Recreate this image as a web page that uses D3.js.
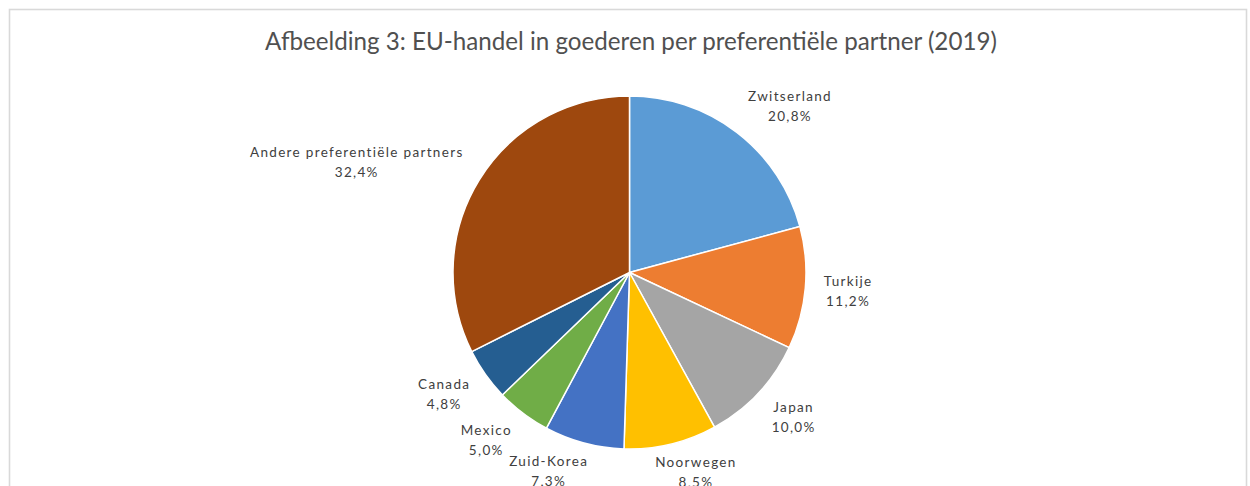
<!DOCTYPE html>
<html>
<head>
<meta charset="utf-8">
<script src="https://cdn.jsdelivr.net/npm/d3@7"></script>
<style>
  html, body { margin: 0; padding: 0; background: #fff; }
  svg { display: block; }
</style>
</head>
<body>
<svg id="chart" width="1250" height="486"></svg>
<script>
// ---- data ----
const titleText = "Afbeelding 3: EU-handel in goederen per preferentiële partner (2019)";
const partners = ["Zwitserland", "Turkije", "Japan", "Noorwegen", "Zuid-Korea", "Mexico", "Canada", "Andere preferentiële partners"];
const shares = [20.8, 11.2, 10.0, 8.5, 7.3, 5.0, 4.8, 32.4];
const sliceColors = ["#5B9BD5", "#ED7D31", "#A5A5A5", "#FFC000", "#4472C4", "#70AD47", "#255E91", "#9E480E"];

// ---- layout ----
const cx = 629.5, cy = 272.5, R = 176.5;
const svg = d3.select("#chart");

// frame
svg.append("rect")
  .attr("x", 9.5).attr("y", 9.5)
  .attr("width", 1237).attr("height", 520)
  .attr("fill", "#fff")
  .attr("stroke", "#d9d9d9").attr("stroke-width", 1.6);

// title
const title = svg.append("text")
  .attr("x", 631).attr("y", 40)
  .attr("text-anchor", "middle")
  .attr("dominant-baseline", "central")
  .attr("fill", "#505050")
  .style("font-family", "Lato, 'Open Sans', sans-serif")
  .style("font-size", "20px")
  .text(titleText);
{
  const len = title.node().getComputedTextLength();
  title.style("font-size", (20 * 732 / len).toFixed(2) + "px");
}

// pie
const data = partners.map((p, i) => ({ name: p, value: shares[i], color: sliceColors[i] }));
const pie = d3.pie().value(d => d.value).sort(null);
const arcs = pie(data);
const arc = d3.arc().innerRadius(0).outerRadius(R);

const g = svg.append("g").attr("transform", `translate(${cx},${cy})`);
g.selectAll("path.slice")
  .data(arcs)
  .join("path")
  .attr("class", "slice")
  .attr("d", arc)
  .attr("fill", d => d.data.color)
  .attr("stroke", "#fff")
  .attr("stroke-width", 1.5)
  .attr("stroke-linejoin", "round");

// labels
const fmt = v => d3.format(".1f")(v).replace(".", ",") + "%";
const labelFont = "Lato, 'Open Sans', sans-serif";
const labelSize = 13.5;
const lineGap = 20;
const boxH = 38;

const lg = g.append("g");
const labels = lg.selectAll("g.lbl")
  .data(arcs)
  .join("g")
  .attr("class", "lbl");
labels.append("text")
  .attr("class", "l1")
  .attr("text-anchor", "middle")
  .attr("dominant-baseline", "central")
  .attr("fill", "#404040")
  .style("font-family", labelFont)
  .style("font-size", labelSize + "px")
  .text(d => d.data.name);
labels.append("text")
  .attr("class", "l2")
  .attr("text-anchor", "middle")
  .attr("dominant-baseline", "central")
  .attr("fill", "#404040")
  .style("font-family", labelFont)
  .style("font-size", labelSize + "px")
  .text(d => fmt(d.data.value));

// letter spacing so the longest label matches the reference width
{
  const longest = labels.select("text.l1").nodes().reduce((a, n) => n.getComputedTextLength() > a.getComputedTextLength() ? n : a);
  const len = longest.getComputedTextLength();
  const nChars = longest.textContent.length;
  const ls = (214 - len) / nChars;
  labels.selectAll("text").style("letter-spacing", ls.toFixed(2) + "px");
}

const clamp = v => Math.max(-1, Math.min(1, v));
labels.each(function(d) {
  const sel = d3.select(this);
  const a = (d.startAngle + d.endAngle) / 2;
  const s = Math.sin(a), c = Math.cos(a);
  const w = Math.max(sel.select("text.l1").node().getComputedTextLength(),
                     sel.select("text.l2").node().getComputedTextLength());
  const px = 195 * s, py = -186 * c;
  const kx = s >= 0 ? 2.2 : 3;
  const bx = px + clamp(kx * s) * w / 2;
  const by = py - clamp(1.3 * c) * boxH / 2;
  sel.select("text.l1").attr("x", bx).attr("y", by - lineGap / 2);
  sel.select("text.l2").attr("x", bx).attr("y", by + lineGap / 2);
});
</script>
</body>
</html>
